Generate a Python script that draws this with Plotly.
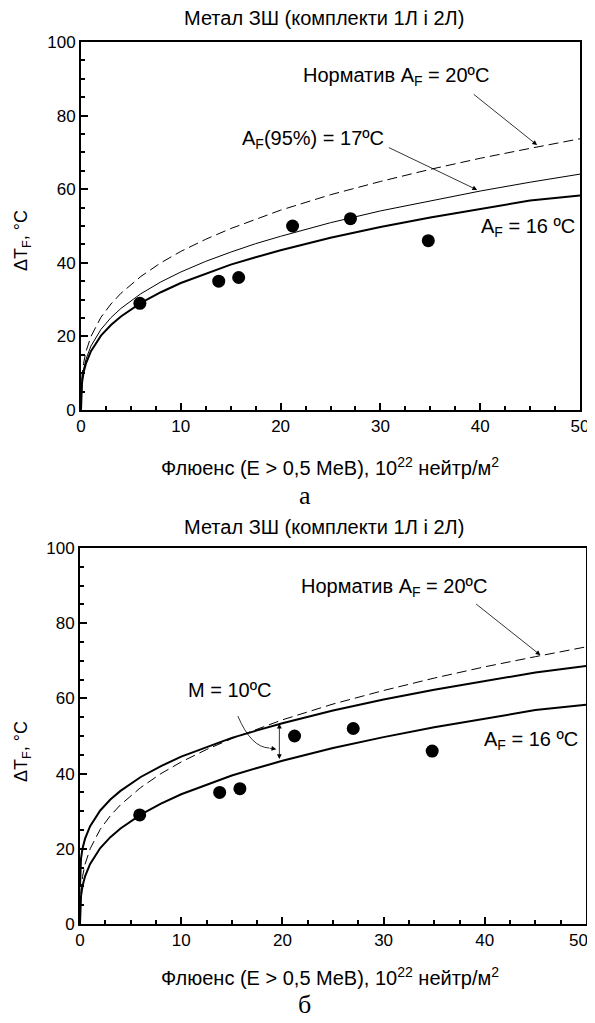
import plotly.graph_objects as go

# Fluence grid (10^22 n/m^2) and curve values
fluence = [0, 0.1, 0.25, 0.5, 1, 2, 3, 4, 6, 8, 10, 12.5, 15, 17.5, 20, 25, 30, 35, 40, 45, 50]
curve_af16 = [0, 7.4, 10.1, 12.7, 16, 20.2, 23.1, 25.4, 29.1, 32, 34.5, 37.1, 39.5, 41.5, 43.4, 46.8, 49.7, 52.3, 54.7, 56.9, 58.3]
curve_af17 = [0, 8.1, 11, 13.8, 17.4, 21.9, 25.1, 27.6, 31.6, 34.8, 37.5, 40.4, 42.9, 45.2, 47.2, 50.9, 54.1, 56.9, 59.5, 61.9, 64.1]
curve_norm20 = [0, 9.3, 12.6, 15.9, 20, 25.2, 28.8, 31.7, 36.3, 40, 43.1, 46.4, 49.3, 51.9, 54.3, 58.5, 62.1, 65.4, 68.4, 71.1, 73.7]
curve_af16_m = [10, 17.4, 20.1, 22.7, 26, 30.2, 33.1, 35.4, 39.1, 42, 44.5, 47.1, 49.5, 51.5, 53.4, 56.8, 59.7, 62.3, 64.7, 66.9, 68.6]

# Measured points
pts_f = [5.9, 13.8, 15.8, 21.2, 27.0, 34.8]
pts_dt = [29, 35, 36, 50, 52, 46]

# Tick labels
x_tickvals = [0, 10, 20, 30, 40, 50]
x_ticktext = ["0", "10", "20", "30", "40", "50"]

title_text = "Метал ЗШ (комплекти 1Л і 2Л)"
xtitle = "Флюенс (E > 0,5 MeB), 10<sup>22</sup> нейтр/м<sup>2</sup>"
ytitle = "ΔT<sub>F</sub>, °C"

FONT = "Liberation Sans, Arial, sans-serif"
SERIF = "Liberation Serif, Times New Roman, serif"
DASH = "10px,5px"

# page offset (default body margin of the html page)
OFF = 8
W, H = 595 - OFF, 1023 - OFF
def PX(p):
    return (p - OFF) / W
def PY(p):
    return 1 - (p - OFF) / H

fig = go.Figure()

# Top plot
fig.add_trace(go.Scatter(x=fluence, y=curve_norm20, mode="lines", line=dict(color="black", width=1, dash=DASH), xaxis="x", yaxis="y"))
fig.add_trace(go.Scatter(x=fluence, y=curve_af17, mode="lines", line=dict(color="black", width=1), xaxis="x", yaxis="y"))
fig.add_trace(go.Scatter(x=fluence, y=curve_af16, mode="lines", line=dict(color="black", width=2), xaxis="x", yaxis="y"))
fig.add_trace(go.Scatter(x=pts_f, y=pts_dt, mode="markers", marker=dict(color="black", size=13), xaxis="x", yaxis="y"))

# Bottom plot
fig.add_trace(go.Scatter(x=fluence, y=curve_norm20, mode="lines", line=dict(color="black", width=1, dash=DASH), xaxis="x2", yaxis="y2"))
fig.add_trace(go.Scatter(x=fluence, y=curve_af16_m, mode="lines", line=dict(color="black", width=2), xaxis="x2", yaxis="y2"))
fig.add_trace(go.Scatter(x=fluence, y=curve_af16, mode="lines", line=dict(color="black", width=2), xaxis="x2", yaxis="y2"))
fig.add_trace(go.Scatter(x=pts_f, y=pts_dt, mode="markers", marker=dict(color="black", size=13), xaxis="x2", yaxis="y2"))

def xax(domain, anchor, ticktext):
    return dict(domain=domain, anchor=anchor, range=[0, 50], tickmode="array", tickvals=x_tickvals, ticktext=ticktext,
                showline=True, linewidth=2, linecolor="black",
                mirror=True, ticks="inside", ticklen=7, tickwidth=2, tickcolor="black", showgrid=False, zeroline=False,
                automargin=False, ticklabeloverflow="allow",
                tickfont=dict(family=FONT, size=17, color="black"),
                minor=dict(dtick=2.5, ticks="inside", ticklen=4, tickwidth=1.5, tickcolor="black", showgrid=False))

def yax(domain, anchor):
    return dict(domain=domain, anchor=anchor, range=[0, 100], dtick=20, showline=True, linewidth=2, linecolor="black",
                mirror=True, ticks="inside", ticklen=7, tickwidth=2, tickcolor="black", showgrid=False, zeroline=False,
                automargin=False, ticklabeloverflow="allow", tickfont=dict(family=FONT, size=17, color="black"),
                minor=dict(dtick=5, ticks="inside", ticklen=4, tickwidth=1.5, tickcolor="black", showgrid=False))

fs = 20
ann = []
def txt(text, x, y, xref, yref, size=fs, family=FONT, angle=0):
    ann.append(dict(text=text, x=x, y=y, xref=xref, yref=yref, showarrow=False, textangle=angle,
                    font=dict(family=family, size=size, color="black"), xanchor="center", yanchor="middle"))

def arrow(x, y, ax, ay, xref, yref, side="end"):
    ann.append(dict(text="", x=x, y=y, ax=ax, ay=ay, xref=xref, yref=yref, axref=xref, ayref=yref,
                    showarrow=True, arrowhead=2, arrowsize=1.2, arrowwidth=0.8, arrowcolor="black", arrowside=side,
                    standoff=0, startstandoff=0))

# paper texts
txt(title_text, PX(324), PY(18), "paper", "paper")
txt(xtitle, PX(330), PY(466), "paper", "paper")
txt("а", PX(305), PY(496), "paper", "paper", size=26, family=SERIF)
txt(ytitle, PX(22), PY(241), "paper", "paper", size=18, angle=-90)
txt(title_text, PX(324), PY(527), "paper", "paper")
txt(xtitle, PX(330), PY(976), "paper", "paper")
txt("б", PX(305), PY(1004), "paper", "paper", size=26, family=SERIF)
txt(ytitle, PX(22), PY(752), "paper", "paper", size=18, angle=-90)
# last tick label of the bottom x axis, nudged inward like in the reference
txt(x_ticktext[-1], PX(578), PY(940), "paper", "paper", size=17)

# top annotations
txt("Норматив A<sub>F</sub> = 20ºC", 31.6, 90.5, "x", "y")
arrow(45.7, 72.0, 39.2, 86.1, "x", "y")
txt("A<sub>F</sub>(95%) = 17ºC", 23.2, 73.4, "x", "y")
arrow(39.7, 59.8, 30.7, 71.5, "x", "y")
txt("A<sub>F</sub> = 16 ºC", 44.8, 49.5, "x", "y")

# bottom annotations
txt("Норматив A<sub>F</sub> = 20ºC", 31.0, 89.4, "x2", "y2")
arrow(45.5, 71.5, 39.0, 85.4, "x2", "y2")
txt("M = 10ºC", 14.8, 62.2, "x2", "y2")
txt("A<sub>F</sub> = 16 ºC", 44.6, 48.7, "x2", "y2")
arrow(19.7, 53.3, 19.7, 43.5, "x2", "y2", side="end+start")
arrow(19.4, 46.5, 18.6, 46.8, "x2", "y2")

fig.add_shape(type="path", path="M 15.6 55.3 Q 16.9 47.0 18.7 46.8", xref="x2", yref="y2",
              line=dict(color="black", width=0.8))

bottom_ticktext = x_ticktext[:-1] + [""]

fig.update_layout(
    width=W, height=H, margin=dict(l=0, r=0, t=0, b=0),
    paper_bgcolor="white", plot_bgcolor="white", showlegend=False,
    xaxis=xax([PX(81), PX(580)], "y", x_ticktext),
    yaxis=yax([PY(410), PY(42)], "x"),
    xaxis2=xax([PX(80), PX(586)], "y2", bottom_ticktext),
    yaxis2=yax([PY(924), PY(548)], "x2"),
    annotations=ann,
)

fig.write_html("out.html")
